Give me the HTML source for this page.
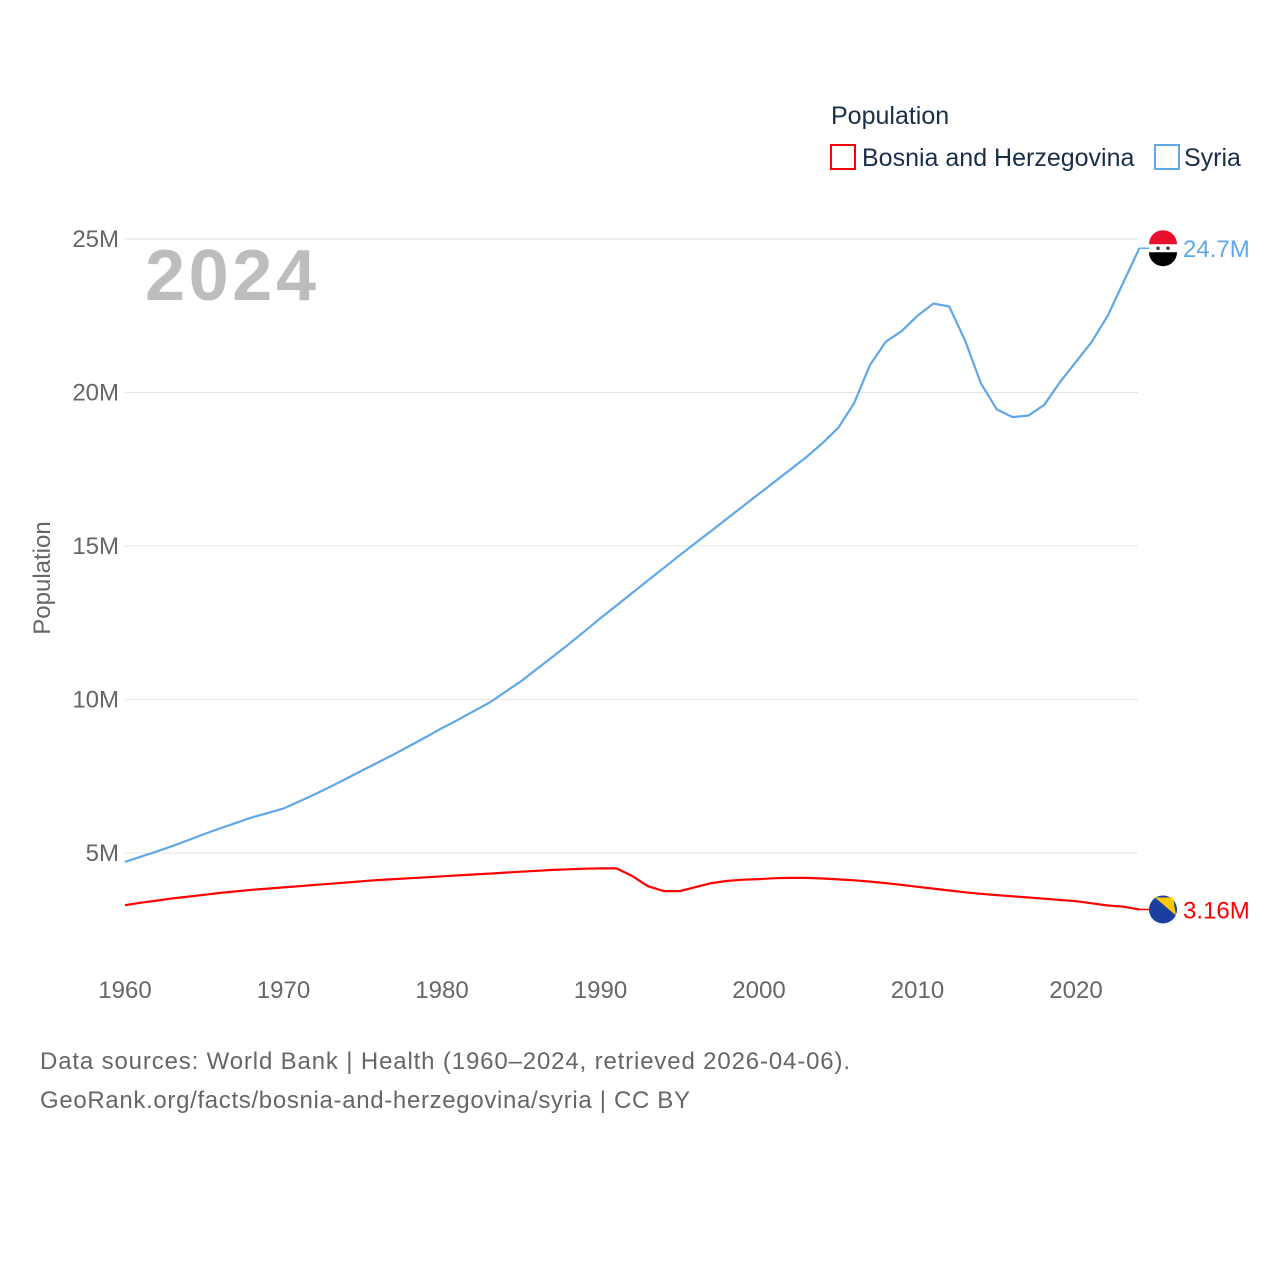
<!DOCTYPE html>
<html><head><meta charset="utf-8"><style>
body{margin:0;background:#fff;font-family:"Liberation Sans",sans-serif}
svg text{font-family:"Liberation Sans",sans-serif}
</style></head><body>
<svg width="1280" height="1280" xmlns="http://www.w3.org/2000/svg">
<g id="grid"></g>
<g id="yt"></g>
<g id="xt"></g>
<text x="145" y="300" font-size="72" font-weight="bold" fill="#bdbdbd" textLength="171">2024</text>
<text transform="translate(50,578) rotate(-90)" text-anchor="middle" font-size="24" fill="#666">Population</text>
<text x="831" y="124" font-size="25" fill="#1a2e4a">Population</text>
<g><rect x="831" y="145" width="24" height="24" fill="none" stroke="#ff0000" stroke-width="2"/><text x="862" y="166" font-size="25" fill="#1a2e4a">Bosnia and Herzegovina</text></g>
<g><rect x="1155" y="145" width="24" height="24" fill="none" stroke="#5fa8e8" stroke-width="2"/><text x="1184" y="166" font-size="25" fill="#1a2e4a">Syria</text></g>
<path id="syr" fill="none" stroke="#5fa8e8" stroke-width="2.2"/>
<path id="bih" fill="none" stroke="#ff0000" stroke-width="2.2"/>
<g id="ends"></g>
<text x="40" y="1069" font-size="24" fill="#666" textLength="810">Data sources: World Bank | Health (1960–2024, retrieved 2026-04-06).</text>
<text x="40" y="1108" font-size="24" fill="#666" textLength="650">GeoRank.org/facts/bosnia-and-herzegovina/syria | CC BY</text>
</svg>
<script>
const years=[];for(let y=1960;y<=2024;y++)years.push(y);
const syria=[4.71,4.88,5.05,5.23,5.42,5.62,5.8,5.98,6.16,6.3,
6.45,6.68,6.92,7.17,7.43,7.7,7.96,8.22,8.5,8.78,
9.07,9.34,9.62,9.9,10.25,10.6,11.0,11.4,11.8,12.22,
12.65,13.06,13.47,13.88,14.29,14.7,15.1,15.5,15.9,16.3,
16.7,17.1,17.5,17.9,18.35,18.85,19.65,20.9,21.65,22.0,
22.5,22.9,22.8,21.7,20.3,19.45,19.2,19.25,19.6,20.35,
21.0,21.65,22.5,23.6,24.7];
const bosnia=[3.3,3.38,3.45,3.52,3.58,3.64,3.7,3.75,3.8,3.84,
3.88,3.92,3.96,4.0,4.04,4.08,4.12,4.15,4.18,4.21,
4.24,4.27,4.3,4.33,4.36,4.39,4.42,4.45,4.47,4.49,
4.5,4.5,4.25,3.92,3.76,3.76,3.89,4.02,4.09,4.13,
4.15,4.18,4.19,4.19,4.17,4.14,4.11,4.07,4.02,3.96,
3.9,3.84,3.78,3.72,3.67,3.63,3.59,3.55,3.51,3.47,
3.43,3.36,3.29,3.25,3.16];
const yTicks=[5,10,15,20,25];const yTickLabels=["5M","10M","15M","20M","25M"];
const xTicks=[1960,1970,1980,1990,2000,2010,2020];
const X=y=>125+(y-1960)*(1076-125)/60;
const Y=v=>1006.5-v*30.7;
const NS="http://www.w3.org/2000/svg";
function mk(t,a,p){const e=document.createElementNS(NS,t);for(const k in a)e.setAttribute(k,a[k]);p.appendChild(e);return e;}
const grid=document.getElementById('grid'),yt=document.getElementById('yt'),xt=document.getElementById('xt');
yTicks.forEach((v,i)=>{const l=mk('line',{x1:125,x2:1138,y1:Y(v),y2:Y(v),stroke:'#e6e6e6'},grid);


const t=mk('text',{x:119,y:Y(v)+8,'text-anchor':'end','font-size':24,fill:'#666'},yt);t.textContent=yTickLabels[i];

});
xTicks.forEach(v=>{const t=mk('text',{x:X(v),y:998,'text-anchor':'middle','font-size':24,fill:'#666'},xt);t.textContent=v;

});
const pth=a=>a.map((v,i)=>(i?'L':'M')+X(years[i]).toFixed(1)+','+Y(v).toFixed(1)).join('');
document.getElementById('syr').setAttribute('d',pth(syria));
document.getElementById('bih').setAttribute('d',pth(bosnia));
const ends=document.getElementById('ends');
[[syria,'#5fa8e8','24.7M','syria'],[bosnia,'#ff0000','3.16M','bosnia']].forEach(([a,c,lab,n])=>{
const v=a[a.length-1],y=Y(v),x=X(2024);
const ln=mk('line',{x1:x,x2:x+10,y1:y,y2:y,stroke:c,'stroke-width':1.5},ends);


const g=mk('g',{},ends);


if(n==='syria'){mk('circle',{cx:1163,cy:y,r:14,fill:'#fff'},g);mk('path',{d:`M1149,${y-4}A14,14 0 0 1 1177,${y-4}Z`,fill:'#e8112d'},g);mk('path',{d:`M1149,${y+4}A14,14 0 0 0 1177,${y+4}Z`,fill:'#000'},g);
mk('circle',{cx:1158,cy:y,r:1.8,fill:'#444'},g);mk('circle',{cx:1168,cy:y,r:1.8,fill:'#444'},g);}
else{mk('circle',{cx:1163,cy:y,r:14,fill:'#1a3f9e'},g);mk('path',{d:`M1155,${y-12}L1173,${y-12}L1176,${y+6}Z`,fill:'#fecb00'},g);}
const t=mk('text',{x:1183,y:y+9,'font-size':24,fill:c},ends);t.textContent=lab;

});
</script>
</body></html>
